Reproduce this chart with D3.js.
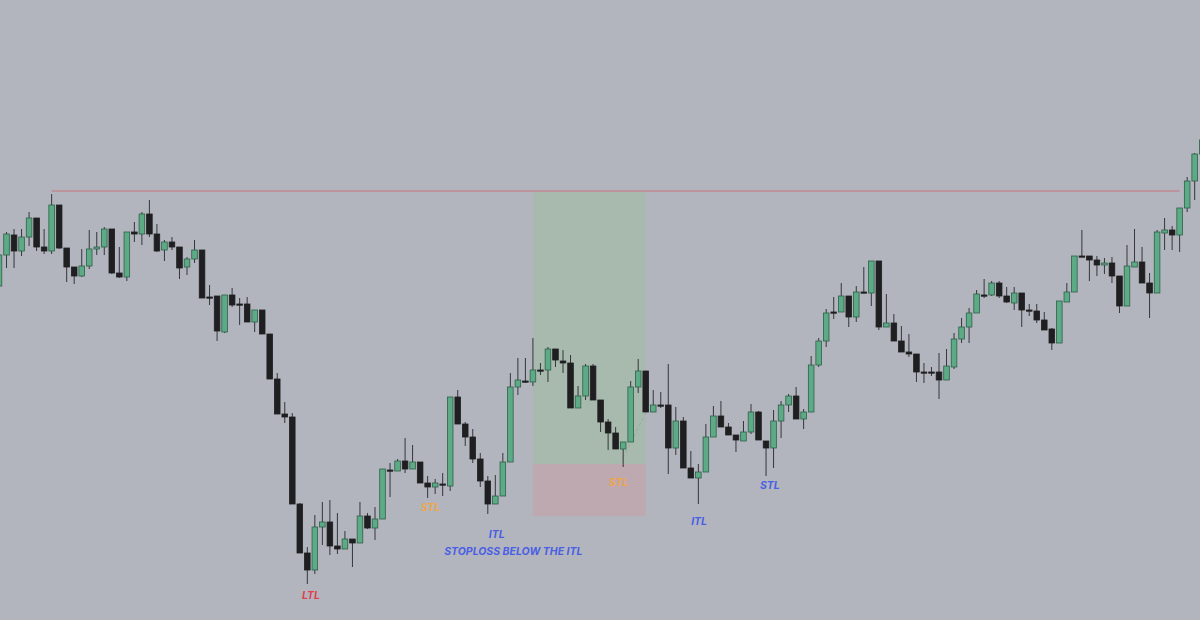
<!DOCTYPE html>
<html>
<head>
<meta charset="utf-8">
<script src="https://cdn.jsdelivr.net/npm/d3@7"></script>
<style>
  html, body { margin: 0; padding: 0; background: #b2b5bd; overflow: hidden; }
  .lbl { font-family: Inter, "Noto Sans", sans-serif; font-weight: 700; font-style: italic; font-size: 10.5px; }
</style>
</head>
<body>
<div class="chart"></div>
<script>
// candle data, price in points
var opens = [334,365,385,369,383,402,373,369,415,372,353,344,354,371,373,391,347,343,388,386,
  406,386,370,378,373,353,361,370,323,324,288,325,316,316,298,310,286,241,206,203,
  116,67,50,93,98,74,71,81,77,104,92,101,150,149,159,151,158,137,133,136,
  134,223,196,183,161,139,116,124,158,233,239,238,250,250,271,259,257,212,224,254,
  220,198,187,171,178,233,249,208,215,215,172,199,152,142,148,183,204,193,185,179,
  188,208,179,172,199,215,224,201,208,255,279,308,308,324,303,328,327,359,293,297,
  279,268,266,248,248,248,240,253,281,293,307,325,325,337,324,317,327,310,309,300,
  291,277,318,328,364,364,360,355,357,344,314,353,358,337,327,387,390,385,412,439,466];
var highs = [367,388,391,391,408,402,391,426,415,372,353,371,390,388,393,391,373,388,398,408,
  420,396,380,383,373,363,380,370,335,324,325,332,322,323,310,310,286,247,218,207,
  117,73,105,118,120,107,89,81,118,107,113,151,157,161,182,175,158,144,141,147,
  223,230,198,191,167,144,145,167,247,262,262,282,257,273,271,270,265,234,256,256,
  220,201,193,178,239,261,249,230,228,256,213,203,169,156,196,214,219,197,185,199,
  216,209,179,210,219,226,233,211,264,282,311,323,337,324,334,353,359,359,326,306,
  294,286,266,257,253,267,271,287,302,312,330,341,339,339,333,333,327,316,316,308,
  292,319,337,364,390,364,364,362,363,344,375,391,373,347,390,402,394,412,443,467,482];
var lows = [333,352,352,364,374,369,366,366,371,338,336,343,351,365,365,346,342,339,378,375,
  383,368,359,370,341,345,357,322,315,279,287,313,295,298,288,286,241,206,197,116,
  67,36,46,75,65,66,71,53,77,91,80,101,123,149,147,151,137,122,126,124,
  129,196,174,157,133,106,116,124,158,225,237,234,245,238,253,247,212,212,220,220,
  188,170,171,153,178,227,208,208,212,146,165,152,142,116,148,183,193,185,168,179,
  186,180,144,152,182,208,201,191,208,253,273,301,308,293,298,327,314,290,293,279,
  268,263,238,237,244,221,240,251,277,277,307,322,324,322,317,310,293,304,297,290,
  270,277,318,328,363,339,344,346,337,307,314,353,337,302,327,370,370,368,408,420,466];
var closes = [365,386,369,383,402,373,369,415,372,353,344,354,371,373,391,347,343,388,386,406,
  386,369,378,373,352,361,370,322,323,289,325,315,316,298,310,286,241,206,203,116,
  67,50,93,98,74,71,81,77,104,92,101,151,150,159,151,158,137,133,137,136,
  223,196,183,161,139,116,124,158,233,240,239,250,250,271,260,257,212,224,254,220,
  198,187,171,178,233,249,208,215,215,172,199,152,142,148,183,204,193,185,180,188,
  208,180,172,199,215,224,201,208,255,279,307,308,324,303,328,328,359,293,297,279,
  268,266,248,248,248,240,254,281,293,307,326,325,337,324,318,327,310,310,300,290,
  277,319,328,364,364,360,355,357,344,314,354,358,337,327,388,390,385,412,439,466,480];

// resistance line and long position box
var resistance = {price: 429, from: 7, to: 157};
var position = {from: 71, to: 86, target: 428, entry: 156, stop: 104};
var entryPath = [[83, 162], [86, 207]];

// annotations
var labelText = ["LTL", "STL", "ITL", "STOPLOSS BELOW THE ITL", "STL", "ITL", "STL"];
var labelIdx = [41.5, 57.4, 66.2, 68.4, 82.4, 93.1, 102.5];
var labelPrice = [21, 109, 82, 65, 134, 95, 131];
var labelColor = ["#e0414f", "#eea64a", "#4a5fe3", "#4a5fe3", "#eea64a", "#4a5fe3", "#4a5fe3"];

var svgWidth = 1200;
var svgHeight = 620;

var svg = d3.select(".chart")
            .append("svg")
            .attr("width", svgWidth)
            .attr("height", svgHeight)
            .style("display", "block");

svg.append("rect")
   .attr("width", svgWidth)
   .attr("height", svgHeight)
   .attr("fill", "#b2b5bd");

var candles = opens.map(function (o, i) {
  return {i: i, o: o, h: highs[i], l: lows[i], c: closes[i]};
});

var xScale = d3.scaleLinear()
  .domain([0, candles.length - 1])
  .range([-1, 1202.2]);

var yScale = d3.scaleLinear()
  .domain([0, 620])
  .range([svgHeight, 0]);

var bodyW = 5.6;

// position zones
svg.append("rect")
   .attr("x", xScale(position.from))
   .attr("y", yScale(position.target))
   .attr("width", xScale(position.to) - xScale(position.from))
   .attr("height", yScale(position.entry) - yScale(position.target))
   .attr("fill", "#a8b9ad");

svg.append("rect")
   .attr("x", xScale(position.from))
   .attr("y", yScale(position.entry))
   .attr("width", xScale(position.to) - xScale(position.from))
   .attr("height", yScale(position.stop) - yScale(position.entry))
   .attr("fill", "#bea9b1");

// resistance
svg.append("line")
   .attr("x1", xScale(resistance.from))
   .attr("x2", xScale(resistance.to))
   .attr("y1", yScale(resistance.price))
   .attr("y2", yScale(resistance.price))
   .attr("stroke", "#c9747d")
   .attr("stroke-width", 1.2);

svg.append("path")
   .attr("d", d3.line().x(d => xScale(d[0])).y(d => yScale(d[1]))(entryPath))
   .attr("fill", "none")
   .attr("stroke", "#8fae98")
   .attr("stroke-width", 1)
   .attr("stroke-dasharray", "3,3");

// candles
var g = svg.append("g");

g.selectAll(".wick")
 .data(candles)
 .enter()
 .append("line")
 .attr("x1", d => xScale(d.i))
 .attr("x2", d => xScale(d.i))
 .attr("y1", d => yScale(d.h))
 .attr("y2", d => yScale(d.l))
 .attr("stroke", "#34363a")
 .attr("stroke-width", 1);

g.selectAll(".body")
 .data(candles)
 .enter()
 .append("rect")
 .attr("x", d => xScale(d.i) - bodyW / 2)
 .attr("y", d => yScale(Math.max(d.o, d.c)))
 .attr("width", bodyW)
 .attr("height", d => Math.max(1.2, Math.abs(yScale(d.o) - yScale(d.c))))
 .attr("fill", d => d.c > d.o ? "#5dab86" : "#1f1f21")
 .attr("stroke", d => d.c > d.o ? "#2f5f49" : "#1f1f21")
 .attr("stroke-width", 0.8);

// labels
svg.selectAll(".lbl")
   .data(labelText)
   .enter()
   .append("text")
   .attr("class", "lbl")
   .attr("x", (d, i) => xScale(labelIdx[i]))
   .attr("y", (d, i) => yScale(labelPrice[i]))
   .attr("text-anchor", "middle")
   .attr("fill", (d, i) => labelColor[i])
   .text(d => d);
</script>
</body>
</html>
